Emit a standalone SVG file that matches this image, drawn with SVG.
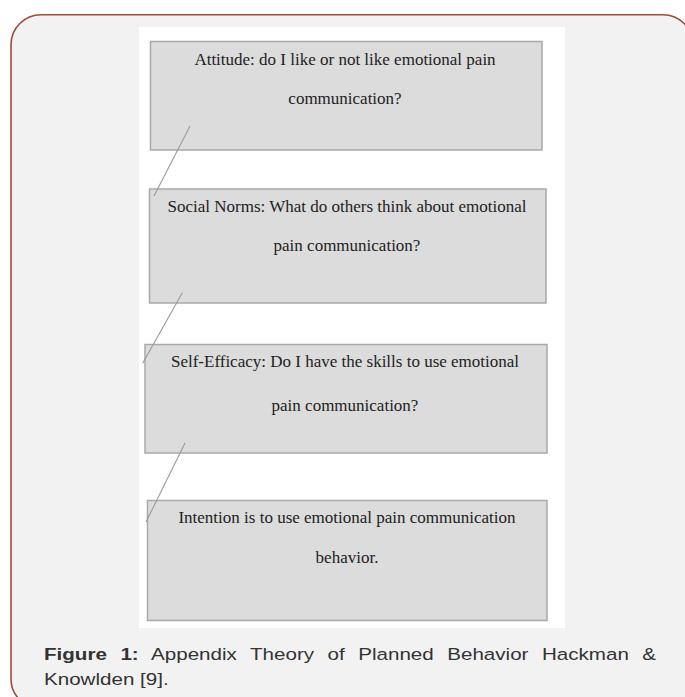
<svg xmlns="http://www.w3.org/2000/svg" width="685" height="697" viewBox="0 0 685 697">
<style>
.frame{fill:#f2f2f2;stroke:#9e4c3a;stroke-width:1.6}
.panel{fill:#ffffff}
.box{fill:#dcdcdc;stroke:#a9a9a9;stroke-width:1.5}
.lbl{font-family:"Liberation Serif","Times New Roman",serif;font-size:17px;fill:#222;text-anchor:middle}
.conn{stroke:#9a9a9a;stroke-width:1.1;fill:none}
.cap{font-family:"Liberation Sans",Arial,sans-serif;font-size:17.3px;fill:#333}
</style>
<rect width="685" height="697" fill="#ffffff"/>
<rect class="frame" x="11" y="14.7" width="682" height="694" rx="30" ry="30"/>
<rect class="panel" x="139" y="27" width="426" height="601"/>
<g id="node-attitude">
<rect class="box" x="150.5" y="41.5" width="391.5" height="108.5"/>
<text class="lbl" x="345" y="65">Attitude: do I like or not like emotional pain</text>
<text class="lbl" x="345" y="103.5">communication?</text>
</g>
<g id="node-social-norms">
<rect class="box" x="149.5" y="189" width="396.5" height="114"/>
<text class="lbl" x="347" y="212">Social Norms: What do others think about emotional</text>
<text class="lbl" x="347" y="251">pain communication?</text>
</g>
<g id="node-self-efficacy">
<rect class="box" x="145" y="344.5" width="402" height="108.5"/>
<text class="lbl" x="345" y="366.5">Self-Efficacy: Do I have the skills to use emotional</text>
<text class="lbl" x="345" y="410.5">pain communication?</text>
</g>
<g id="node-intention">
<rect class="box" x="147.5" y="500.5" width="399.5" height="120"/>
<text class="lbl" x="347" y="523">Intention is to use emotional pain communication</text>
<text class="lbl" x="347" y="562.7">behavior.</text>
</g>
<g id="connectors">
<line class="conn" x1="190" y1="126" x2="154" y2="196"/>
<line class="conn" x1="182.3" y1="292.7" x2="142.7" y2="363.3"/>
<line class="conn" x1="185" y1="443" x2="146" y2="522"/>
</g>
<g id="caption">
<text class="cap" transform="translate(44,660) scale(1.19,1)" word-spacing="6.56"><tspan font-weight="bold">Figure 1:</tspan> Appendix Theory of Planned Behavior Hackman &amp;</text>
<text class="cap" transform="translate(44,685) scale(1.19,1)">Knowlden [9].</text>
</g>
</svg>
